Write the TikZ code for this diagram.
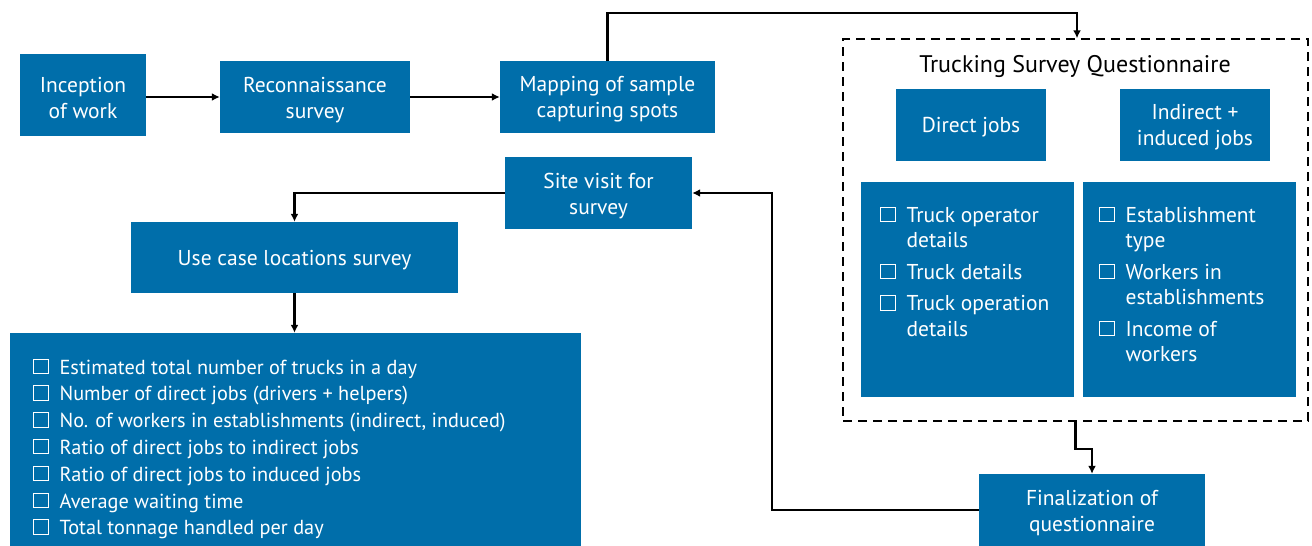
\documentclass[tikz,border=0pt]{standalone}
\usepackage{fontspec}
\setmainfont{PT Sans}
\usetikzlibrary{arrows.meta}
\definecolor{boxblue}{HTML}{006EAA}
% white check box sitting on the baseline
\newcommand\cbox{\tikz[baseline=0pt]\draw[white,line width=0.9pt](0.5pt,0.5pt) rectangle (15pt,15pt);}
% extra room above the first line of a box label
\newcommand\tstrut{\rule{0pt}{20.5pt}}
\begin{document}
\begin{tikzpicture}[x=1pt,y=-1pt,
  blk/.style={fill=boxblue,text=white,align=center,inner sep=0pt,
    font=\fontsize{21.5}{26}\selectfont},
  listtext/.style={anchor=base west,inner sep=0pt,text=white},
  arr/.style={line width=2.2pt,-{Latex[length=8pt,width=8pt]}},
]
\useasboundingbox (0,0) rectangle (1312,546);

% top row
\node[blk,minimum width=126pt,minimum height=82pt] (inc) at (83,95) {\tstrut Inception\\of work};
\node[blk,minimum width=190pt,minimum height=72pt] (rec) at (315,97) {\tstrut Reconnaissance\\survey};
\node[blk,minimum width=215pt,minimum height=72pt] (map) at (607.5,97) {\tstrut Mapping of sample\\capturing spots};

% left column
\node[blk,minimum width=187pt,minimum height=72pt] (site) at (598.5,193) {\tstrut Site visit for\\survey};
\node[blk,minimum width=327pt,minimum height=71pt] (use) at (294.5,257.5) {\tstrut Use case locations survey};
\node[blk,minimum width=571pt,minimum height=213pt] (big) at (295.5,439.5) {};
\node[listtext,font=\fontsize{20.3}{26.8}\selectfont] (bigtxt) at (33,374)
  {\begin{tabular}[t]{@{}l@{\hspace{11pt}}l@{}}
   \cbox & Estimated total number of trucks in a day\\
   \cbox & Number of direct jobs (drivers + helpers)\\
   \cbox & No. of workers in establishments (indirect, induced)\\
   \cbox & Ratio of direct jobs to indirect jobs\\
   \cbox & Ratio of direct jobs to induced jobs\\
   \cbox & Average waiting time\\
   \cbox & Total tonnage handled per day
   \end{tabular}};

% questionnaire group
\node[draw,line width=1.5pt,dash pattern=on 9pt off 6pt,minimum width=465pt,minimum height=382pt,inner sep=0pt] (qbox) at (1075.5,230) {};
\node[inner sep=0pt,font=\fontsize{24}{26}\selectfont] (qtitle) at (1075,66) {Trucking Survey Questionnaire};
\node[blk,minimum width=150pt,minimum height=72pt] (dj) at (971,125) {\tstrut Direct jobs};
\node[blk,minimum width=150pt,minimum height=72pt] (ij) at (1195,125) {\tstrut Indirect +\\induced jobs};
\node[blk,minimum width=213pt,minimum height=215pt] (dl) at (967.5,289.5) {};
\node[blk,minimum width=213pt,minimum height=215pt] (il) at (1189.5,289.5) {};
\node[listtext,font=\fontsize{21.5}{25.5}\selectfont] (dltxt) at (880,222)
  {\begin{tabular}[t]{@{}l@{\hspace{11pt}}l@{}}
   \cbox & Truck operator\\ & details\\[6pt]
   \cbox & Truck details\\[6pt]
   \cbox & Truck operation\\ & details
   \end{tabular}};
\node[listtext,font=\fontsize{21.5}{25.5}\selectfont] (iltxt) at (1099,222)
  {\begin{tabular}[t]{@{}l@{\hspace{11pt}}l@{}}
   \cbox & Establishment\\ & type\\[6pt]
   \cbox & Workers in\\ & establishments\\[6pt]
   \cbox & Income of\\ & workers
   \end{tabular}};

\node[blk,minimum width=226pt,minimum height=72pt] (fin) at (1092,510) {\tstrut Finalization of\\questionnaire};

% connectors
\coordinate (topturn) at (1077,13);
\coordinate (backturn) at (772,0);
\draw[arr] (inc.east |- rec.west) -- (rec.west);
\draw[arr] (rec.east) -- (map.west);
\draw[arr] (map.north) |- (topturn) -- (topturn |- qbox.north);
\draw[arr] (qbox.south) -- ++(0,27) -| (fin.north);
\draw[arr] (fin.west) -| (backturn |- site.east) -- (site.east);
\draw[arr] (site.west) -| (use.north);
\draw[arr] (use.south) -- (use.south |- big.north);
\end{tikzpicture}
\end{document}
